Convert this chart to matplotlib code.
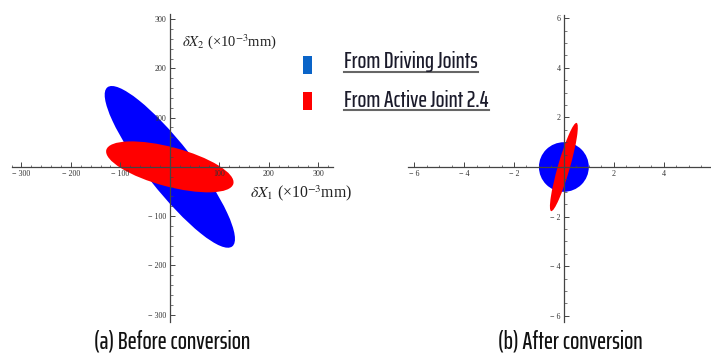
import numpy as np
import matplotlib.pyplot as plt
from matplotlib.patches import Ellipse, Rectangle
from matplotlib.lines import Line2D
from matplotlib.ticker import MultipleLocator, FuncFormatter

plt.rcParams['mathtext.fontset'] = 'stix'

# ellipse data: width, height (full axes), angle in degrees
before_names = ['From Driving Joints', 'From Active Joint 2.4']
before_width = [410, 266]
before_height = [96, 80]
before_angle = [-52, -15]

after_width = [2.0, 3.7]
after_height = [2.0, 0.48]
after_angle = [0, 74]

colors = ['#0000ff', '#ff0000']
legend_colors = ['#0a64c8', '#ff0000']

W, H = 711, 353


def rect(x0, x1, y0, y1):
  # pixel box (top-down y) -> figure fraction
  return [x0 / W, (H - y1) / H, (x1 - x0) / W, (y1 - y0) / H]


def nozero(v, pos):
  if abs(v) < 1e-9:
    return ''
  return ('\u2212 ' if v < 0 else '') + ('%g' % abs(v))


def style(ax, major, minor):
  for s in ['top', 'right']:
    ax.spines[s].set_visible(False)
  for s in ['left', 'bottom']:
    ax.spines[s].set_position('zero')
    ax.spines[s].set_color('#444444')
    ax.spines[s].set_linewidth(0.9)
  ax.xaxis.set_major_locator(MultipleLocator(major))
  ax.yaxis.set_major_locator(MultipleLocator(major))
  ax.xaxis.set_minor_locator(MultipleLocator(minor))
  ax.yaxis.set_minor_locator(MultipleLocator(minor))
  ax.xaxis.set_major_formatter(FuncFormatter(nozero))
  ax.yaxis.set_major_formatter(FuncFormatter(nozero))
  ax.tick_params(which='major', direction='in', length=3.5, width=0.7, color='#444444',
                 labelsize=5.8, pad=2.5, labelfontfamily='Liberation Serif', labelcolor='#333333')
  ax.tick_params(which='minor', direction='in', length=1.8, width=0.5, color='#444444')
  ax.tick_params(axis='x', which='major', pad=2)
  ax.set_facecolor('none')


fig = plt.figure(figsize=(W / 100, H / 100), dpi=100)

# (a) before conversion
ax1 = fig.add_axes(rect(11.6, 333, 14.2, 322))
ax1.set_xlim(-320, 330)
ax1.set_ylim(-315, 310)
style(ax1, 100, 20)
for w, h, a, c in zip(before_width, before_height, before_angle, colors):
  ax1.add_patch(Ellipse((0, 0), w, h, angle=a, facecolor=c, edgecolor='none', zorder=1))
ax1.text(24, 254, r'$\delta X_2$ (×10$^{-3}$mm)', fontsize=10.5, family='Liberation Serif',
         va='center', ha='left', color='#222222')
ax1.text(162, -53, r'$\delta X_1$ (×10$^{-3}$mm)', fontsize=11.3, family='Liberation Serif',
         va='center', ha='left', color='#222222')

# (b) after conversion
ax2 = fig.add_axes(rect(408, 711, 15, 322))
ax2.set_xlim(-6.25, 5.9)
ax2.set_ylim(-6.25, 6.13)
style(ax2, 2, 0.5)
for w, h, a, c in zip(after_width, after_height, after_angle, colors):
  ax2.add_patch(Ellipse((0, 0), w, h, angle=a, facecolor=c, edgecolor='none', zorder=1))

# legend
cond = ['Saira ExtraCondensed', 'Sofia Sans Extra Condensed', 'DejaVu Sans']
base_y = [68, 107]
line_y = [72, 110]
box_y = [56, 92]
for i, (name, c) in enumerate(zip(before_names, legend_colors)):
  fig.patches.append(Rectangle((303 / W, (H - box_y[i] - 18) / H), 9 / W, 18 / H,
                               transform=fig.transFigure, facecolor=c, edgecolor='none'))
  t = fig.text(344 / W, (H - base_y[i]) / H, name, fontsize=16.8, family=cond, fontweight=500,
               va='baseline', ha='left', color='#1b1b2b')
  fig.canvas.draw()
  bb = t.get_window_extent()
  fig.lines.append(Line2D([344 / W, bb.x1 / W], [(H - line_y[i]) / H] * 2,
                          transform=fig.transFigure, color='#666666', lw=1.5))

fig.text(172 / W, (H - 349) / H, '(a) Before conversion', fontsize=17.4, family=cond, fontweight=500,
         ha='center', va='baseline', color='#111111')
fig.text(570 / W, (H - 349) / H, '(b) After conversion', fontsize=17.4, family=cond, fontweight=500,
         ha='center', va='baseline', color='#111111')

fig.savefig('out.png', dpi=100)
